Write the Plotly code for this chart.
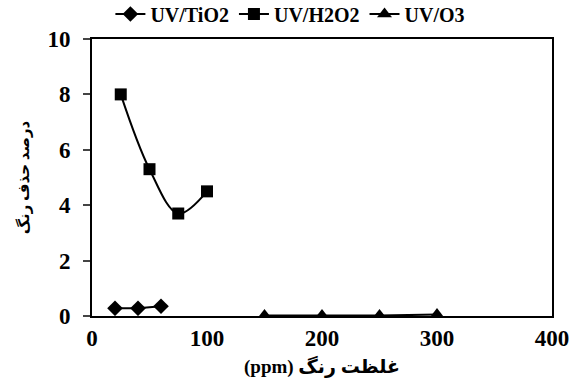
import plotly.graph_objects as go

tio2_x = [20, 40, 60]
tio2_y = [0.28, 0.28, 0.35]
h2o2_x = [25, 50, 75, 100]
h2o2_y = [8.0, 5.3, 3.7, 4.5]
o3_x = [150, 200, 250, 300]
o3_y = [0.02, 0.02, 0.02, 0.05]

x_title = "<b>(ppm) غلظت رنگ</b>"
y_title = "<b>درصد حذف رنگ</b>"

FONT = "Liberation Serif"
AFONT = "Liberation Serif, DejaVu Sans"

fig = go.Figure()
fig.add_trace(go.Scatter(x=tio2_x, y=tio2_y, name="<b>UV/TiO2</b>", mode="lines+markers",
                         line=dict(color="black", width=2),
                         marker=dict(symbol="diamond", size=12, color="black")))
fig.add_trace(go.Scatter(x=h2o2_x, y=h2o2_y, name="<b>UV/H2O2</b>", mode="lines+markers",
                         line=dict(color="black", width=2, shape="spline", smoothing=1),
                         marker=dict(symbol="square", size=12, color="black")))
fig.add_trace(go.Scatter(x=o3_x, y=o3_y, name="<b>UV/O3</b>", mode="lines+markers",
                         line=dict(color="black", width=2),
                         marker=dict(symbol="triangle-up", size=13, color="black")))

fig.update_layout(
    width=573, height=387,
    margin=dict(l=92, r=21, t=39, b=71, autoexpand=False),
    paper_bgcolor="white", plot_bgcolor="white",
    font=dict(family=FONT, color="black", size=20),
    showlegend=True,
    legend=dict(orientation="h", x=0.04, xanchor="left", y=1.02, yanchor="bottom",
                font=dict(family=FONT, size=20, color="black"),
                itemwidth=30, tracegroupgap=0, bgcolor="rgba(0,0,0,0)"),
    xaxis=dict(range=[0, 400], tickvals=[0, 100, 200, 300, 400],
               ticktext=["<b>0</b>", "<b>100</b>", "<b>200</b>", "<b>300</b>", "<b>400</b>"],
               showgrid=False, zeroline=False, showline=True, linecolor="black",
               linewidth=2, mirror=True, ticks="",
               tickfont=dict(family=FONT, size=23),
               title=dict(text=x_title, standoff=10,
                          font=dict(family=AFONT, size=19))),
    yaxis=dict(range=[0, 10], tickvals=[0, 2, 4, 6, 8, 10],
               ticktext=["<b>0</b>", "<b>2</b>", "<b>4</b>", "<b>6</b>", "<b>8</b>", "<b>10</b>"],
               showgrid=False, zeroline=False, showline=True, linecolor="black",
               linewidth=2, mirror=True, ticks="outside", ticklen=7, tickwidth=2,
               ticklabelstandoff=8,
               tickfont=dict(family=FONT, size=23),
               title=dict(text=y_title, standoff=14,
                          font=dict(family=AFONT, size=15))),
)

fig.write_html("out.html", config={"displayModeBar": False},
               post_script="document.body.style.margin='0';document.body.style.overflow='hidden';")
